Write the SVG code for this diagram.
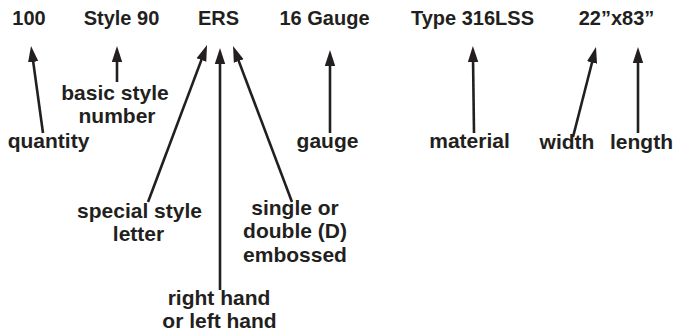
<svg xmlns="http://www.w3.org/2000/svg" width="673" height="335" viewBox="0 0 673 335">
  <defs>
    <style>
      text { font-family: "Liberation Sans", Arial, Helvetica, sans-serif; font-weight: bold; font-size: 20px; fill: #231f20; text-anchor: middle; }
      .lbl text { font-size: 21px; }
      .conn line { stroke: #231f20; stroke-width: 2.6; fill: none; marker-end: url(#arrow); }
    </style>
    <!-- arrowhead: tip sits 10px past the end of the line -->
    <marker id="arrow" markerUnits="userSpaceOnUse" markerWidth="20" markerHeight="14" viewBox="0 -7 20 14" refX="6" refY="0" orient="auto">
      <path d="M0,-5.2 L16,0 L0,5.2 Z" fill="#231f20"/>
    </marker>
  </defs>
  <rect width="673" height="335" fill="#ffffff"/>

  <!-- order code fields -->
  <g id="field-quantity"><text x="29" y="25">100</text></g>
  <g id="field-style"><text x="121.5" y="25">Style 90</text></g>
  <g id="field-ers"><text x="218.5" y="25">ERS</text></g>
  <g id="field-gauge"><text x="324.5" y="25">16 Gauge</text></g>
  <g id="field-type"><text x="472.5" y="25">Type 316LSS</text></g>
  <g id="field-size"><text x="616.5" y="25">22”x83”</text></g>

  <!-- explanations -->
  <g id="label-quantity" class="lbl"><text x="48.5" y="148">quantity</text></g>
  <g id="label-basic-style" class="lbl"><text x="115" y="100">basic style</text><text x="117" y="123">number</text></g>
  <g id="label-special-style" class="lbl"><text x="139.5" y="218">special style</text><text x="138.5" y="241">letter</text></g>
  <g id="label-hand" class="lbl"><text x="219" y="305">right hand</text><text x="219.5" y="328">or left hand</text></g>
  <g id="label-embossed" class="lbl"><text x="295" y="215">single or</text><text x="295" y="238">double (D)</text><text x="295" y="262">embossed</text></g>
  <g id="label-gauge" class="lbl"><text x="327.5" y="148">gauge</text></g>
  <g id="label-material" class="lbl"><text x="469.5" y="148">material</text></g>
  <g id="label-width" class="lbl"><text x="567" y="149">width</text></g>
  <g id="label-length" class="lbl"><text x="641.5" y="149">length</text></g>

  <!-- connectors -->
  <g id="connectors" class="conn">
    <line x1="43" y1="133" x2="32.4" y2="55.9"/>
    <line x1="117" y1="82" x2="117" y2="56"/>
    <line x1="148" y1="202" x2="203.5" y2="54.4"/>
    <line x1="220" y1="290" x2="220" y2="58"/>
    <line x1="292" y1="202" x2="236.6" y2="55.4"/>
    <line x1="330" y1="133" x2="330" y2="60"/>
    <line x1="474" y1="133" x2="473" y2="56"/>
    <line x1="573" y1="137" x2="593.5" y2="56.7"/>
    <line x1="638" y1="133" x2="638" y2="57"/>
  </g>
</svg>
